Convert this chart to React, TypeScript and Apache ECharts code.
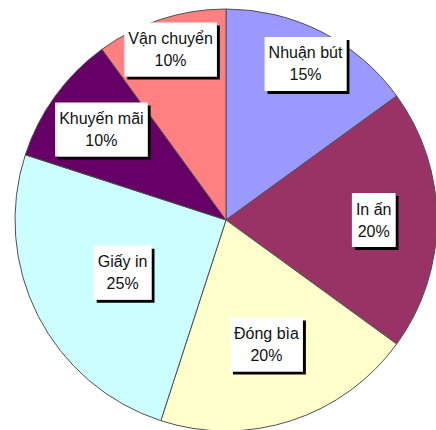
import React, { useEffect, useRef } from "react";
import * as echarts from "echarts";

const categories = ["Nhuận bút", "In ấn", "Đóng bìa", "Giấy in", "Khuyến mãi", "Vận chuyển"];
const values = [15, 20, 20, 25, 10, 10];
const colors = ["#9999FF", "#993366", "#FFFFCC", "#CCFFFF", "#660066", "#FF8080"];
// label distance from centre, as a fraction of the radius
const labelDist = [0.83, 0.7, 0.62, 0.55, 0.73, 0.85];

const CX = 226;
const CY = 220;
const R = 211;

export default function App() {
  const ref = useRef<HTMLDivElement>(null);
  useEffect(() => {
    if (!ref.current) return;
    const chart = echarts.init(ref.current, null, { renderer: "svg" });
    const total = values.reduce((a, b) => a + b, 0);
    const mids: number[] = [];
    let acc = 0;
    values.forEach((v) => {
      mids.push(((acc + v / 2) / total) * Math.PI * 2);
      acc += v;
    });
    chart.setOption({
      animation: false,
      backgroundColor: "#ffffff",
      series: [
        {
          type: "pie",
          center: [CX, CY],
          radius: [0, R],
          startAngle: 90,
          clockwise: true,
          avoidLabelOverlap: false,
          itemStyle: { borderColor: "#505050", borderWidth: 1 },
          label: {
            show: true,
            position: "inside",
            formatter: (p: any) => `${p.name}\n${p.value}%`,
            fontFamily: "Liberation Sans, Arial, sans-serif",
            fontSize: 16,
            lineHeight: 22,
            color: "#111111",
            align: "center",
            verticalAlign: "middle",
            backgroundColor: "#ffffff",
            padding: [5, 4, 5, 4],
            shadowColor: "#000000",
            shadowOffsetX: 3,
            shadowOffsetY: 3,
            shadowBlur: 0,
          },
          labelLine: { show: false },
          labelLayout: (p: any) => {
            const i = p.dataIndex;
            const a = mids[i];
            const d = labelDist[i] * R;
            return {
              x: CX + d * Math.sin(a),
              y: CY - d * Math.cos(a),
              align: "center",
              verticalAlign: "middle",
            };
          },
          data: categories.map((name, i) => ({
            name,
            value: values[i],
            itemStyle: { color: colors[i] },
          })),
        },
      ],
    });
    return () => chart.dispose();
  }, []);
  return (
    <div
      ref={ref}
      style={{ position: "absolute", left: 0, top: 0, width: 436, height: 430 }}
    />
  );
}
